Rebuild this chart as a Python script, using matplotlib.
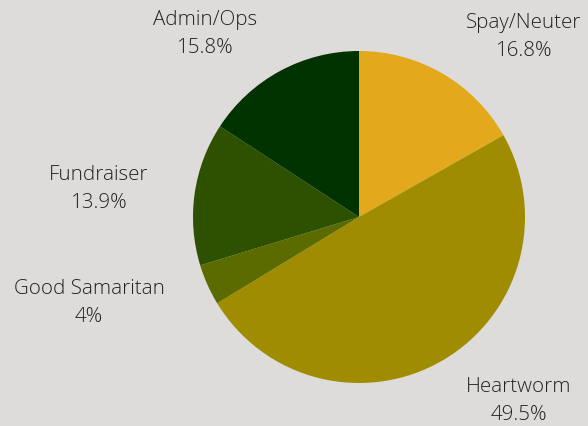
import matplotlib
matplotlib.use("Agg")
import matplotlib.pyplot as plt

categories = ["Spay/Neuter", "Heartworm", "Good Samaritan", "Fundraiser", "Admin/Ops"]
values = [16.8, 49.5, 4.0, 13.9, 15.8]
pct_labels = ["16.8%", "49.5%", "4%", "13.9%", "15.8%"]
colors = ["#E3A81B", "#A08C00", "#5B6B00", "#2D5100", "#003300"]

W, H = 588, 426
# label centers in pixel coords (layout)
label_pos = [(524, 37), (519, 401), (89, 303), (99, 189), (205, 34)]

plt.rcParams['font.family'] = ['Open Sans', 'DejaVu Sans']
fig = plt.figure(figsize=(W / 100, H / 100), dpi=100)
fig.patch.set_facecolor("#DDDCDA")

cx, cy, r = 359, 217, 166
ax = fig.add_axes([(cx - r) / W, (H - cy - r) / H, 2 * r / W, 2 * r / H])
ax.pie(values, colors=colors, startangle=90, counterclock=False, radius=1,
       wedgeprops=dict(linewidth=0))
ax.set_xlim(-1, 1)
ax.set_ylim(-1, 1)
ax.set_aspect("equal")
ax.axis("off")

for cat, pct, (px, py) in zip(categories, pct_labels, label_pos):
    fig.text(px / W, 1 - py / H, f"{cat}\n{pct}", ha="center", va="center",
             fontsize=14.8, fontweight=300, color="#222222", linespacing=1.56)

fig.savefig("out.png", dpi=100, facecolor=fig.get_facecolor())
